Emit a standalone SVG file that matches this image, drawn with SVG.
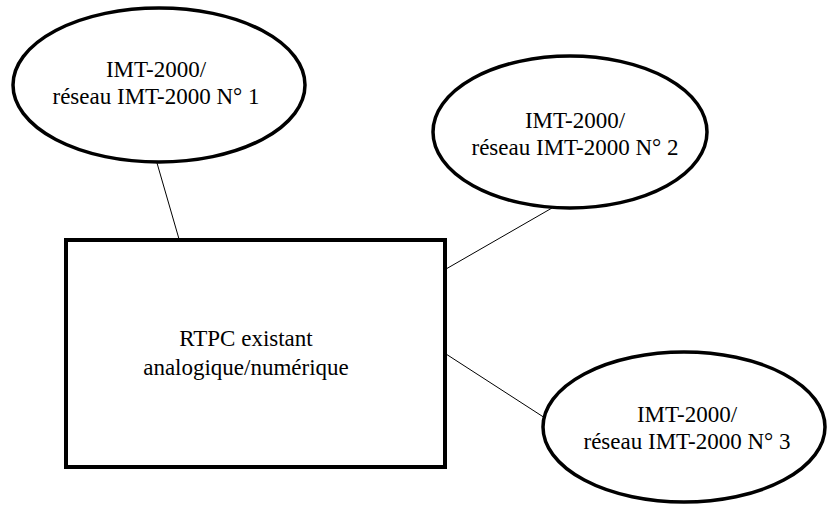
<svg xmlns="http://www.w3.org/2000/svg" width="827" height="505" viewBox="0 0 827 505">
<style>
.node{fill:#fff;stroke:#000;stroke-width:3.5}
.box{fill:#fff;stroke:#000;stroke-width:4}
.lbl{font-family:"Liberation Serif","Times New Roman",serif;font-size:23px;fill:#000;text-anchor:middle}
.conn{stroke:#000;stroke-width:1;fill:none}
</style>
<g id="connectors">
<line class="conn" x1="157" y1="163" x2="179" y2="239"/>
<line class="conn" x1="552" y1="208" x2="446" y2="269"/>
<line class="conn" x1="446" y1="354" x2="545" y2="418"/>
</g>
<g id="pstn">
<rect class="box" x="66" y="240" width="379" height="227"/>
<text class="lbl" x="246" y="346">RTPC existant</text>
<text class="lbl" x="246" y="375">analogique/numérique</text>
</g>
<g id="imt1">
<ellipse class="node" cx="159" cy="85" rx="146" ry="77"/>
<text class="lbl" x="156" y="77">IMT-2000/</text>
<text class="lbl" x="156" y="104">réseau IMT-2000 N° 1</text>
</g>
<g id="imt2">
<ellipse class="node" cx="570" cy="132" rx="137" ry="76"/>
<text class="lbl" x="575" y="128">IMT-2000/</text>
<text class="lbl" x="575" y="155">réseau IMT-2000 N° 2</text>
</g>
<g id="imt3">
<ellipse class="node" cx="684" cy="427" rx="141" ry="75"/>
<text class="lbl" x="687" y="422">IMT-2000/</text>
<text class="lbl" x="687" y="449">réseau IMT-2000 N° 3</text>
</g>
</svg>
